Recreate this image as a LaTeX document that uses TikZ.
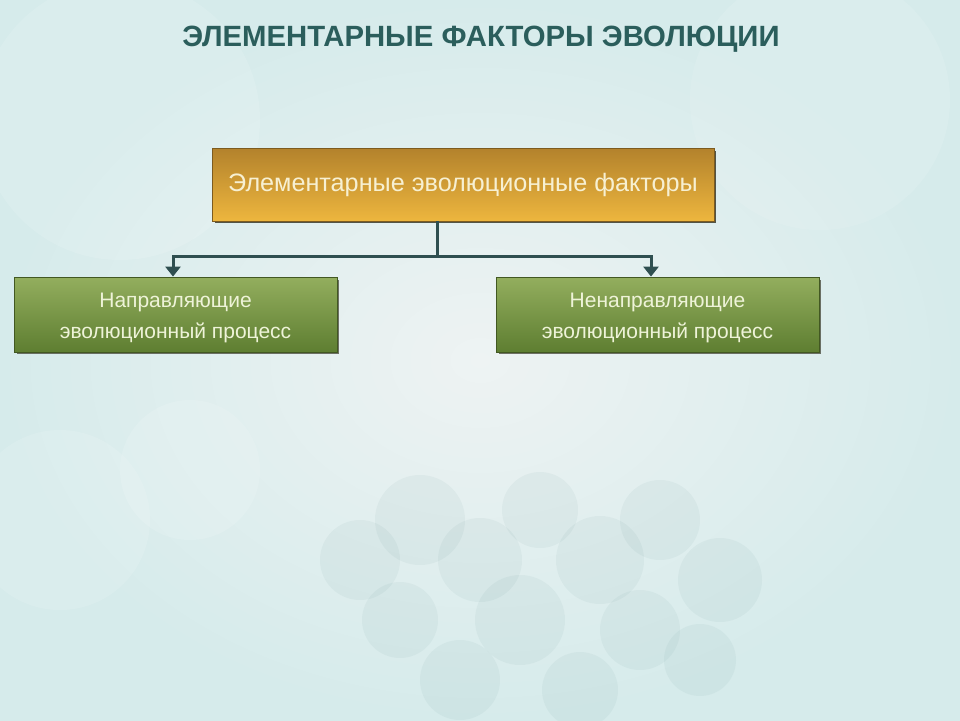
\documentclass[tikz,border=0pt]{standalone}
\usepackage{fontspec}
\setmainfont{Liberation Sans}
\usetikzlibrary{arrows.meta}
\definecolor{bgA}{HTML}{D6EBEB}
\definecolor{bgB}{HTML}{EEF3F3}
\definecolor{titlec}{HTML}{2B5E5C}
\definecolor{goldTop}{HTML}{B3822C}
\definecolor{goldBot}{HTML}{EDB63E}
\definecolor{greenTop}{HTML}{93AE5E}
\definecolor{greenBot}{HTML}{5E7E31}
\definecolor{linec}{HTML}{2F4F50}
\definecolor{shadowc}{HTML}{3A3A2A}
\definecolor{goldtext}{HTML}{F7F0D2}
\definecolor{greentext}{HTML}{EEF3D8}
\begin{document}
\begin{tikzpicture}[x=1pt,y=-1pt,
  goldbox/.style={minimum width=502pt,minimum height=73pt,inner sep=0pt,
    top color=goldTop,bottom color=goldBot,draw=goldTop!70!black,line width=0.8pt,
    font=\fontsize{25.2}{30}\selectfont,text=goldtext},
  greenbox/.style={minimum width=323pt,minimum height=75pt,inner sep=0pt,
    top color=greenTop,bottom color=greenBot,draw=greenBot!70!black,line width=0.8pt},
  greentxt/.style={yshift=-3.5pt,font=\fontsize{21}{31}\selectfont,text=greentext,align=center},
  conn/.style={draw=linec,line width=3pt},
  arr/.style={conn,-{Triangle[width=15pt,length=10pt]}}]
% background
\shade[inner color=bgB,outer color=bgA] (0,0) rectangle (960,720);
\useasboundingbox (0,0) rectangle (960,720);
\fill[white,opacity=0.12] (120,120) circle (140);
\fill[white,opacity=0.10] (820,100) circle (130);
\foreach \cx/\cy/\r in {360/560/40,420/520/45,480/560/42,540/510/38,600/560/44,660/520/40,720/580/42,400/620/38,520/620/45,640/630/40,460/680/40,580/690/38,700/660/36}{
  \fill[teal!40!gray,opacity=0.06] (\cx,\cy) circle (\r);
}
\fill[white,opacity=0.12] (60,520) circle (90);
\fill[white,opacity=0.12] (190,470) circle (70);
% title
\node[font=\bfseries\fontsize{29.3}{34}\selectfont,text=titlec] (title) at (481,39) {ЭЛЕМЕНТАРНЫЕ ФАКТОРЫ ЭВОЛЮЦИИ};
% shadows
\fill[shadowc,opacity=0.85] (215,151) rectangle (716,223);
\fill[shadowc,opacity=0.7] (17,280) rectangle (339,354);
\fill[shadowc,opacity=0.7] (499,280) rectangle (821,354);
% boxes
\node[goldbox] (top) at (463,184.5) {Элементарные эволюционные факторы};
\node[greenbox,label={[greentxt]center:Направляющие\\эволюционный процесс}] (left) at (175.5,314.5) {};
\node[greenbox,label={[greentxt]center:Ненаправляющие\\эволюционный процесс}] (right) at (657.5,314.5) {};
% connectors
\coordinate (j) at (437,256);
\draw[conn] (top.south -| j) -- (j);
\draw[arr] (j) -| (left.north -| 173,0);
\draw[arr] (j) -| (right.north -| 651,0);
\end{tikzpicture}
\end{document}
